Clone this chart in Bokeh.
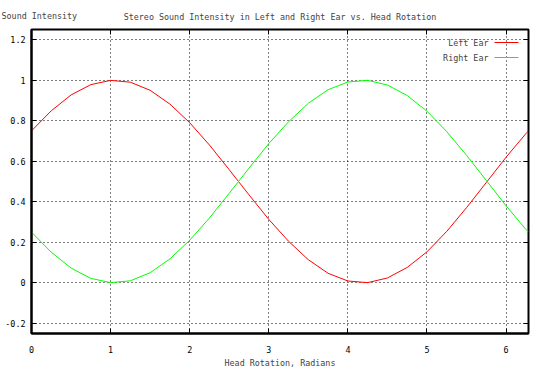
from bokeh.plotting import figure
from bokeh.models import Label, LinearAxis, FixedTicker, Range1d, Title
from bokeh.embed import file_html
from bokeh.resources import INLINE

# ---- data ----
x_vals = [0.0, 0.25, 0.5, 0.75, 1.0, 1.25, 1.5, 1.75, 2.0, 2.25, 2.5, 2.75,
          3.0, 3.25, 3.5, 3.75, 4.0, 4.25, 4.5, 4.75, 5.0, 5.25, 5.5, 5.75,
          6.0, 6.25, 6.2832]
left_ear = [0.750, 0.849, 0.927, 0.978, 0.999, 0.990, 0.950, 0.882, 0.790,
            0.680, 0.558, 0.434, 0.313, 0.205, 0.114, 0.047, 0.009, 0.001,
            0.024, 0.076, 0.153, 0.254, 0.371, 0.495, 0.620, 0.736, 0.750]
right_ear = [0.250, 0.151, 0.073, 0.022, 0.001, 0.010, 0.050, 0.118, 0.210,
             0.320, 0.442, 0.566, 0.687, 0.795, 0.886, 0.953, 0.991, 0.999,
             0.976, 0.924, 0.847, 0.746, 0.629, 0.505, 0.380, 0.264, 0.250]

series_names = ["Left Ear", "Right Ear"]
series_colors = ["#ff0000", "#00ff00"]

x_ticks = [0, 1, 2, 3, 4, 5, 6]
x_tick_labels = ["0", "1", "2", "3", "4", "5", "6"]
y_ticks = [-0.2, 0.0, 0.2, 0.4, 0.6, 0.8, 1.0, 1.2]
y_tick_labels = ["-0.2", "0", "0.2", "0.4", "0.6", "0.8", "1", "1.2"]

title_text = "Stereo Sound Intensity in Left and Right Ear vs. Head Rotation"
y_label_text = "Sound Intensity"
x_label_text = "Head Rotation, Radians"

FONT = "DejaVu Sans Mono"
FSIZE = "8.4px"

X0, X1 = 0.0, x_vals[-1]
Y0, Y1 = -0.25, 1.25
W, H = 540, 380
BL, BR, BT, BB = 31, 12, 29, 47
FW, FH = W - BL - BR, H - BT - BB

p = figure(width=W, height=H,
           x_range=Range1d(X0, X1), y_range=Range1d(Y0, Y1),
           output_backend="svg", toolbar_location=None,
           min_border_left=BL, min_border_right=BR,
           min_border_top=BT, min_border_bottom=BB)
p.background_fill_color = "white"
p.border_fill_color = "white"
p.outline_line_color = "black"
p.outline_line_width = 2

for name, ys, col in zip(series_names, [left_ear, right_ear], series_colors):
    p.line(x_vals, ys, line_color=col, line_width=1)

# axes
p.xaxis.ticker = FixedTicker(ticks=x_ticks)
p.xaxis.major_label_overrides = dict(zip(x_ticks, x_tick_labels))
p.yaxis.ticker = FixedTicker(ticks=y_ticks)
p.yaxis.major_label_overrides = dict(zip(y_ticks, y_tick_labels))
for ax in [p.xaxis[0], p.yaxis[0]]:
    ax.major_tick_in = 5
    ax.major_tick_out = 0
    ax.minor_tick_in = 0
    ax.minor_tick_out = 0
    ax.axis_line_color = "black"
    ax.axis_line_width = 2
    ax.major_tick_line_color = "black"
    ax.major_tick_line_width = 1
    ax.major_label_text_font = FONT
    ax.major_label_text_font_size = FSIZE
    ax.major_label_text_color = "black"
p.yaxis.major_label_standoff = 6
p.xaxis.major_label_standoff = 12
p.xaxis.axis_label = x_label_text
p.xaxis.axis_label_text_font = FONT
p.xaxis.axis_label_text_font_size = FSIZE
p.xaxis.axis_label_text_font_style = "normal"
p.xaxis.axis_label_standoff = 2

# mirrored ticks on top and right
top_ax = LinearAxis(ticker=FixedTicker(ticks=x_ticks))
right_ax = LinearAxis(ticker=FixedTicker(ticks=y_ticks))
for ax, tk in [(top_ax, x_ticks), (right_ax, y_ticks)]:
    ax.major_tick_in = 5
    ax.major_tick_out = 0
    ax.minor_tick_in = 0
    ax.minor_tick_out = 0
    ax.axis_line_color = None
    ax.major_tick_line_color = "black"
    ax.major_label_overrides = {t: "" for t in tk}
    ax.major_label_text_font_size = "1px"
    ax.major_label_standoff = 0
p.add_layout(top_ax, "above")
p.add_layout(right_ax, "right")

# grid
p.xgrid.ticker = FixedTicker(ticks=x_ticks)
p.ygrid.ticker = FixedTicker(ticks=y_ticks)
for g in [p.xgrid[0], p.ygrid[0]]:
    g.grid_line_color = "black"
    g.grid_line_dash = "1 3"
    g.grid_line_width = 1

# titles (both on one row: the outer one gets a negative standoff)
p.title.text = ""
main_title = Title(text=title_text, align="center", text_font=FONT,
                   text_font_size=FSIZE, text_font_style="normal",
                   standoff=15)
side_title = Title(text=y_label_text, align="left", offset=-30,
                   text_font=FONT, text_font_size=FSIZE,
                   text_font_style="normal", standoff=-37)
p.add_layout(main_title, "above")
p.add_layout(side_title, "above")

# legend: text followed by a line sample (placed in pixels from frame corner)
px_x = (X1 - X0) / FW
px_y = (Y1 - Y0) / FH
for i, (name, col) in enumerate(zip(series_names, series_colors)):
    dy = 13 + 15 * i
    p.add_layout(Label(x=X1, y=Y1, x_offset=-40, y_offset=-dy,
                       text=name, text_font=FONT, text_font_size=FSIZE,
                       text_align="right", text_baseline="middle"))
    yk = Y1 - dy * px_y
    p.segment(x0=[X1 - 34 * px_x], y0=[yk], x1=[X1 - 10 * px_x], y1=[yk],
              line_color=col, line_width=1)

open("out.html", "w").write(file_html(p, INLINE))
